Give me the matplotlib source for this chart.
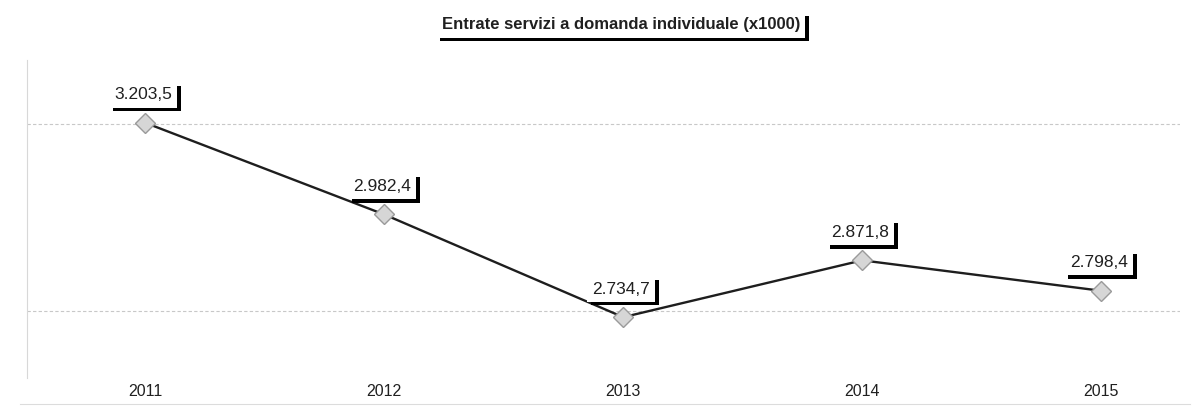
import matplotlib
matplotlib.use("Agg")
import matplotlib.pyplot as plt
import matplotlib.patheffects as pe

years = ["2011", "2012", "2013", "2014", "2015"]
values = [3203.5, 2982.4, 2734.7, 2871.8, 2798.4]
value_labels = ["3.203,5", "2.982,4", "2.734,7", "2.871,8", "2.798,4"]
grid_levels = [3200, 2750]
title = "Entrate servizi a domanda individuale (x1000)"

plt.rcParams['font.family'] = ['Liberation Sans', 'DejaVu Sans']

fig = plt.figure(figsize=(12.04, 4.08), dpi=100)
ax = fig.add_axes([27/1204, 1 - 378/408, (1180 - 27)/1204, (378 - 60)/408])

x = list(range(len(years)))
for g in grid_levels:
    ax.axhline(g, color='#c8c8c8', lw=0.8, ls=(0, (3, 2)), zorder=0)

ax.plot(x, values, color='#1e1e1e', lw=1.7, zorder=2)
ax.plot(x, values, ls='none', marker='D', markersize=10,
        markerfacecolor='#d6d6d6', markeredgecolor='#9a9a9a', markeredgewidth=1.0, zorder=3)

shadow = [pe.SimplePatchShadow(offset=(2.5, -2.5), shadow_rgbFace='black', alpha=1.0), pe.Normal()]
for xi, v, lab in zip(x, values, value_labels):
    t = ax.annotate(lab, (xi, v), xytext=(-2, 28), textcoords='offset pixels',
                    ha='center', va='center', fontsize=12.5, color='#202020',
                    bbox=dict(boxstyle='square,pad=0.3', fc='white', ec='none'), zorder=5)
    t.get_bbox_patch().set_path_effects(shadow)

ax.set_xlim(-0.495, 4.33)
ax.set_ylim(2588, 3355)
ax.set_xticks(x)
ax.set_xticklabels(years, fontsize=11.5, color='#202020')
ax.tick_params(axis='x', length=0, pad=4)
ax.set_yticks([])
for s in ['top', 'right', 'bottom']:
    ax.spines[s].set_visible(False)
ax.spines['left'].set_color('#d8d8d8')
ax.spines['left'].set_linewidth(0.8)

tt = fig.text(621/1204, 1 - 25/408, title, ha='center', va='center', fontsize=12,
              fontweight='bold', color='#202020',
              bbox=dict(boxstyle='square,pad=0.3', fc='white', ec='none'))
tt.get_bbox_patch().set_path_effects(shadow)

fig.add_artist(plt.Line2D([20/1204, 1190/1204], [1 - 404/408, 1 - 404/408],
                          transform=fig.transFigure, color='#dcdcdc', lw=0.8))

fig.savefig("out.png", dpi=100, facecolor='white')
